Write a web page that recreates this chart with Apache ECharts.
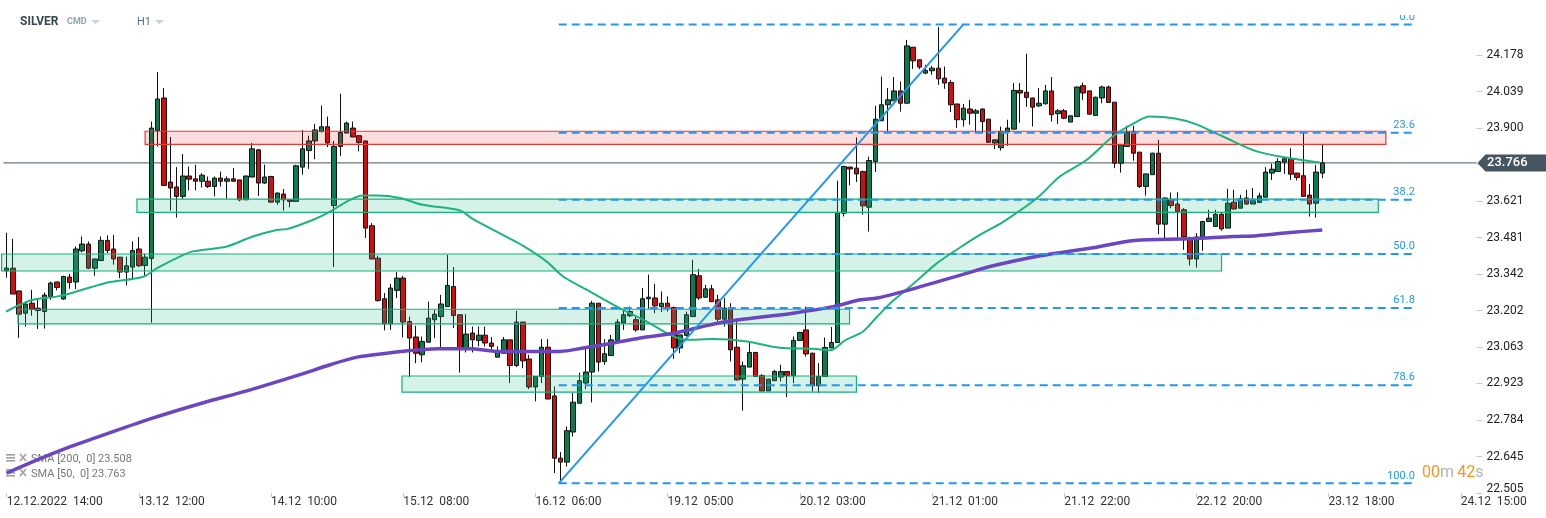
<!DOCTYPE html>
<html><head><meta charset="utf-8">
<script src="https://cdn.jsdelivr.net/npm/echarts/dist/echarts.min.js"></script>
<style>html,body{margin:0;padding:0;background:#fff}#c{width:1546px;height:518px}</style>
</head><body><div id="c"></div>
<script>
// ---- data (H1 candles, SILVER) ----
const open = [
23.354,23.364,23.277,23.192,23.230,23.211,23.198,23.256,23.311,23.246,
23.330,23.311,23.430,23.456,23.364,23.393,23.470,23.437,23.406,23.349,
23.368,23.437,23.374,23.401,23.890,24.014,23.693,23.674,23.638,23.716,
23.705,23.696,23.696,23.676,23.708,23.696,23.705,23.701,23.625,23.712,
23.816,23.689,23.714,23.616,23.647,23.625,23.619,23.750,23.813,23.850,
23.886,23.904,23.603,23.829,23.880,23.899,23.870,23.850,23.526,23.402,
23.247,23.151,23.279,23.326,23.160,23.101,23.033,23.081,23.167,23.179,
23.217,23.294,23.186,23.055,23.116,23.088,23.108,23.078,23.024,23.039,
23.090,22.992,23.158,23.017,22.910,22.950,23.062,22.876,22.638,22.623,
22.738,22.848,22.925,22.967,23.230,23.007,23.030,23.088,23.154,23.182,
23.167,23.128,23.247,23.250,23.217,23.230,23.214,23.059,23.107,23.179,
23.335,23.253,23.285,23.243,23.169,23.207,23.062,22.940,22.986,23.042,
22.954,22.895,22.934,22.948,22.969,22.953,23.088,23.128,23.039,22.915,
22.950,23.059,23.080,23.574,23.750,23.746,23.733,23.597,23.771,23.927,
23.988,24.003,24.041,23.994,24.208,24.160,24.109,24.118,24.128,24.090,
24.073,23.991,23.931,23.972,23.956,23.972,23.933,23.842,23.824,23.884,
23.895,24.043,24.036,24.014,23.984,23.992,24.041,23.954,23.965,23.922,
23.943,24.061,24.041,23.947,24.014,24.056,23.998,23.765,23.829,23.886,
23.807,23.676,23.721,23.803,23.532,23.625,23.609,23.587,23.476,23.399,
23.483,23.542,23.523,23.570,23.517,23.616,23.593,23.632,23.609,23.615,
23.635,23.727,23.733,23.769,23.782,23.727,23.717,23.643,23.612,23.727];
const close = [
23.364,23.265,23.188,23.227,23.207,23.202,23.261,23.307,23.290,23.332,
23.309,23.437,23.456,23.364,23.399,23.470,23.431,23.399,23.349,23.373,
23.431,23.373,23.406,23.899,24.010,23.680,23.670,23.638,23.716,23.704,
23.696,23.719,23.676,23.708,23.696,23.705,23.696,23.625,23.716,23.820,
23.689,23.712,23.616,23.651,23.625,23.619,23.755,23.820,23.850,23.892,
23.904,23.842,23.829,23.882,23.918,23.865,23.844,23.517,23.399,23.240,
23.151,23.288,23.326,23.158,23.097,23.039,23.084,23.173,23.188,23.227,
23.298,23.183,23.055,23.112,23.090,23.108,23.078,23.065,23.046,23.090,
22.992,23.158,23.010,22.910,22.950,23.062,22.864,22.638,22.623,22.743,
22.852,22.934,22.967,23.230,23.005,23.037,23.090,23.158,23.186,23.198,
23.128,23.247,23.253,23.220,23.230,23.211,23.059,23.109,23.186,23.339,
23.250,23.285,23.236,23.169,23.211,23.052,22.937,22.991,23.042,22.950,
22.895,22.940,22.969,22.969,22.953,23.088,23.118,23.036,22.915,22.950,
23.061,23.080,23.577,23.752,23.743,23.724,23.602,23.775,23.933,23.988,
24.007,24.041,23.994,24.213,24.156,24.132,24.119,24.128,24.087,24.071,
23.988,23.931,23.975,23.956,23.965,23.924,23.845,23.854,23.886,23.899,
24.043,24.033,24.016,23.979,23.994,24.041,23.950,23.965,23.937,23.946,
24.056,24.033,23.952,24.017,24.056,23.997,23.765,23.835,23.884,23.803,
23.676,23.724,23.803,23.532,23.632,23.603,23.580,23.483,23.399,23.483,
23.542,23.555,23.570,23.514,23.612,23.590,23.629,23.609,23.622,23.640,
23.731,23.742,23.771,23.782,23.723,23.710,23.638,23.609,23.731,23.766];
const low = [
23.327,23.265,23.098,23.141,23.182,23.132,23.133,23.243,23.279,23.243,
23.285,23.284,23.424,23.360,23.335,23.393,23.421,23.377,23.326,23.298,
23.326,23.368,23.335,23.156,23.829,23.680,23.584,23.557,23.628,23.661,
23.661,23.672,23.670,23.638,23.676,23.629,23.695,23.619,23.625,23.712,
23.640,23.686,23.616,23.606,23.584,23.596,23.619,23.721,23.743,23.780,
23.882,23.826,23.368,23.793,23.880,23.865,23.810,23.479,23.399,23.236,
23.126,23.128,23.250,23.099,22.948,23.001,23.004,23.081,23.097,23.059,
23.217,23.135,22.965,23.042,23.042,23.065,23.065,23.052,23.024,23.039,
22.925,22.986,22.982,22.902,22.855,22.925,22.864,22.581,22.544,22.606,
22.721,22.848,22.902,22.851,22.969,22.995,23.030,23.088,23.128,23.177,
23.121,23.128,23.209,23.192,23.196,23.198,23.017,23.039,23.103,23.179,
23.243,23.250,23.234,23.160,23.141,23.007,22.935,22.820,22.986,22.948,
22.893,22.895,22.934,22.931,22.871,22.925,23.086,23.026,22.893,22.887,
22.950,23.059,23.078,23.561,23.680,23.693,23.568,23.504,23.731,23.927,
23.886,24.003,23.962,23.994,24.125,24.124,24.105,24.103,24.064,24.049,
23.960,23.899,23.905,23.912,23.886,23.880,23.842,23.819,23.813,23.831,
23.895,23.920,23.980,23.905,23.979,23.988,23.924,23.915,23.933,23.922,
23.943,24.007,23.952,23.947,23.994,23.997,23.746,23.729,23.829,23.774,
23.670,23.641,23.721,23.494,23.479,23.593,23.476,23.434,23.374,23.366,
23.430,23.541,23.523,23.507,23.517,23.587,23.593,23.606,23.609,23.615,
23.635,23.701,23.733,23.724,23.701,23.699,23.638,23.561,23.557,23.708];
const high = [
23.499,23.476,23.277,23.236,23.281,23.247,23.271,23.313,23.312,23.335,
23.342,23.447,23.485,23.466,23.400,23.485,23.489,23.491,23.407,23.408,
23.466,23.483,23.419,23.924,24.113,24.052,23.865,23.750,23.800,23.752,
23.759,23.727,23.714,23.714,23.733,23.714,23.746,23.701,23.717,23.842,
23.819,23.759,23.717,23.652,23.666,23.625,23.759,23.892,23.870,23.915,
23.985,23.943,23.850,24.030,23.924,23.924,23.873,23.850,23.536,23.412,
23.269,23.304,23.349,23.335,23.179,23.144,23.103,23.236,23.205,23.262,
23.415,23.368,23.186,23.188,23.141,23.141,23.141,23.101,23.065,23.101,
23.090,23.201,23.158,23.033,22.950,23.093,23.093,22.912,22.661,22.759,
22.887,22.965,23.059,23.239,23.230,23.093,23.109,23.169,23.205,23.217,
23.182,23.288,23.339,23.304,23.275,23.256,23.216,23.109,23.198,23.396,
23.361,23.300,23.300,23.262,23.250,23.230,23.173,23.007,23.080,23.042,
22.959,22.941,22.976,22.995,22.969,23.103,23.121,23.217,23.041,23.001,
23.099,23.139,23.698,23.755,23.751,23.863,23.736,23.790,23.984,24.096,
24.052,24.094,24.077,24.236,24.209,24.160,24.141,24.137,24.285,24.134,
24.083,23.992,23.991,24.007,23.972,23.973,23.934,23.854,23.905,23.931,
24.071,24.071,24.183,24.015,24.052,24.064,24.094,23.972,23.972,23.946,
24.057,24.073,24.041,24.019,24.061,24.061,23.998,23.835,23.908,23.908,
23.808,23.724,23.805,23.854,23.633,23.653,23.654,23.593,23.484,23.498,
23.545,23.587,23.587,23.579,23.667,23.663,23.644,23.663,23.670,23.652,
23.750,23.763,23.784,23.784,23.822,23.728,23.880,23.686,23.759,23.835];

// SMA readings: [bar position, value]
const sma50 = [[-0.1,23.198],[2.1,23.224],[4.2,23.243],[8.5,23.258],[13.2,23.290],[16.4,23.311],[21.6,23.330],[23.9,23.364],[27.5,23.408],[29.6,23.428],[35.0,23.447],[39.1,23.485],[42.9,23.510],[44.5,23.513],[48.7,23.549],[51.4,23.580],[54.1,23.619],[56.6,23.641],[58.8,23.641],[62.5,23.632],[66.1,23.606],[72.0,23.584],[74.1,23.551],[78.8,23.491],[82.0,23.450],[85.8,23.389],[88.4,23.332],[92.2,23.281],[97.4,23.211],[101.7,23.160],[105.4,23.109],[108.1,23.090],[112.2,23.093],[117.6,23.084],[122.8,23.060],[128.1,23.056],[130.8,23.050],[133.3,23.090],[136.0,23.121],[138.3,23.179],[140.8,23.239],[144.0,23.303],[147.8,23.383],[151.4,23.442],[154.6,23.491],[158.3,23.541],[163.7,23.632],[167.3,23.714],[171.6,23.778],[175.7,23.867],[178.9,23.915],[181.6,23.943],[185.6,23.936],[188.8,23.915],[193.2,23.867],[198.6,23.810],[203.9,23.784],[208.6,23.768]];
const sma200 = [[0,22.581],[4.2,22.625],[9.5,22.676],[13.2,22.708],[22.8,22.788],[30.7,22.846],[38.7,22.899],[46.6,22.957],[51.4,22.995],[55.7,23.024],[59.8,23.037],[64.1,23.049],[68.4,23.056],[73.6,23.056],[77.9,23.046],[83.1,23.046],[87.9,23.046],[91.6,23.059],[96.6,23.079],[101.1,23.099],[105.4,23.113],[114.4,23.160],[124.9,23.192],[131.3,23.217],[135.6,23.243],[138.3,23.250],[145.6,23.296],[152.6,23.345],[156.2,23.370],[164.2,23.411],[172.1,23.440],[179.2,23.470],[188.0,23.476],[194.8,23.485],[198.6,23.488],[203.9,23.500],[209.0,23.510]];

const fibLabels = ['0.0','23.6','38.2','50.0','61.8','78.6','100.0'];
const fibPrices = [24.295,23.881,23.625,23.418,23.212,22.917,22.542];
const fibFrom = 87.7, fibTo = 223.7;
const trendX = [87.7, 152.0];
const trendY = [22.542, 24.295];

const zoneFrom = [22.0, 20.7, -0.8, 1.8, 62.8];
const zoneTo   = [219.1, 217.9, 193.0, 133.9, 135.0];
const zoneHigh = [23.887, 23.628, 23.418, 23.207, 22.952];
const zoneLow  = [23.837, 23.577, 23.353, 23.151, 22.890];
const zoneKind = ['resist','support','support','support','support'];

const lastPrice = 23.766;
const tickLabels = ['12.12.2022  14:00','13.12  12:00','14.12  10:00','15.12  08:00','16.12  06:00','19.12  05:00','20.12  03:00','21.12  01:00','21.12  22:00','22.12  20:00','23.12  18:00','24.12  15:00'];
const tickEvery = 21;
const yTickValues = [22.505,22.6444,22.7838,22.9233,23.0627,23.2021,23.3415,23.4809,23.6203,23.7598,23.8992,24.0386,24.178];
const yTickLabels = ['22.505','22.645','22.784','22.923','23.063','23.202','23.342','23.481','23.621','','23.900','24.039','24.178'];
const yMin = 22.505, yMax = 24.331;
const N = 234;

// ---- chart ----
const categories = Array.from({length: N}, (_, i) => String(i));
const candles = open.map((o, i) => [o, close[i], low[i], high[i]]);
const FONT = 'Roboto, "Noto Sans", sans-serif';
const yLabelOf = (v) => {
  let best = -1, d = 1e9;
  yTickValues.forEach((t, i) => { if (Math.abs(t - v) < d) { d = Math.abs(t - v); best = i; } });
  return d < 0.005 ? yTickLabels[best] : '';
};

const chart = echarts.init(document.getElementById('c'), null, {renderer: 'canvas'});
const option = {
  animation: false,
  backgroundColor: '#ffffff',
  grid: {left: 3.5, top: 15, width: 1473, height: 478},
  xAxis: [{
    type: 'category', data: categories, boundaryGap: true,
    axisLine: {show: false, onZero: false},
    axisTick: {show: true, alignWithLabel: true, length: 4, lineStyle: {color: '#c8c8c8'},
      interval: (i) => i % tickEvery === 0},
    axisLabel: {interval: (i) => i % tickEvery === 0, align: 'left', margin: 3,
      color: '#333', fontSize: 12, fontFamily: FONT,
      formatter: (v, i) => tickLabels[Math.round(i / tickEvery)] || ''},
    splitLine: {show: false}
  }, {
    type: 'value', min: -0.5, max: N - 0.5, show: false, axisLine: {onZero: false}
  }],
  yAxis: [{
    type: 'value', position: 'right', min: yMin, max: yMax,
    axisLine: {show: false, onZero: false},
    axisTick: {show: true, length: 6, lineStyle: {color: '#c8c8c8'}, customValues: yTickValues},
    splitLine: {show: false},
    axisLabel: {margin: 10, color: '#222', fontSize: 12, fontFamily: FONT, customValues: yTickValues,
      showMinLabel: true, showMaxLabel: true,
      formatter: (v) => {
        const t = yLabelOf(v);
        return (t && Math.abs(v - yMin) < 0.005) ? '{b|' + t + '}' : t;
      },
      rich: {b: {padding: [0, 0, 8, 0], color: '#222', fontSize: 12, fontFamily: FONT}}}
  }],
  series: [
    { // last price line
      type: 'line', xAxisIndex: 1, yAxisIndex: 0, z: 1, silent: true, symbol: 'none',
      data: [[-0.5, lastPrice], [N - 0.5, lastPrice]],
      lineStyle: {color: '#4b5661', width: 1}
    },
    {
      type: 'candlestick', xAxisIndex: 0, yAxisIndex: 0, z: 2, barWidth: 5,
      data: candles,
      itemStyle: {color: '#0b7a4f', color0: '#d10d0d', borderColor: '#111', borderColor0: '#111', borderWidth: 1}
    },
    { // zones
      type: 'custom', xAxisIndex: 1, yAxisIndex: 0, z: 5, silent: true,
      data: zoneFrom.map((x, i) => [x, zoneTo[i], zoneHigh[i], zoneLow[i], i]),
      encode: {x: [0, 1], y: [2, 3]},
      renderItem: (params, api) => {
        const p1 = api.coord([api.value(0), api.value(2)]);
        const p2 = api.coord([api.value(1), api.value(3)]);
        const res = zoneKind[api.value(4)] === 'resist';
        return {type: 'rect', shape: {x: p1[0], y: p1[1], width: p2[0] - p1[0], height: p2[1] - p1[1]},
          style: {fill: res ? 'rgba(230,30,30,0.15)' : 'rgba(40,190,140,0.2)',
                  stroke: res ? '#e53935' : '#17b07b', lineWidth: 1.2}};
      }
    },
    {
      type: 'line', name: 'SMA50', xAxisIndex: 1, yAxisIndex: 0, z: 6, silent: true,
      data: sma50, symbol: 'none', smooth: 0.3,
      lineStyle: {color: '#1db47c', width: 2}
    },
    {
      type: 'line', name: 'SMA200', xAxisIndex: 1, yAxisIndex: 0, z: 6, silent: true,
      data: sma200, symbol: 'none', smooth: 0.3,
      lineStyle: {color: '#6b46c1', width: 3.5}
    },
    { // fib levels
      type: 'custom', xAxisIndex: 1, yAxisIndex: 0, z: 7, silent: true,
      data: fibPrices.map((p, i) => [fibFrom, fibTo, p, i]),
      encode: {x: [0, 1], y: 2},
      renderItem: (params, api) => {
        const a = api.coord([api.value(0), api.value(2)]);
        const b = api.coord([api.value(1), api.value(2)]);
        return {type: 'group', children: [
          {type: 'line', shape: {x1: a[0], y1: a[1], x2: b[0], y2: b[1]},
            style: {stroke: '#2196f3', lineWidth: 2, lineDash: [8, 5]}},
          {type: 'text', style: {text: fibLabels[api.value(3)], x: b[0], y: b[1] - 2,
            align: 'right', verticalAlign: 'bottom', fill: '#2196f3', font: '11px ' + FONT}}
        ]};
      }
    },
    {
      type: 'line', xAxisIndex: 1, yAxisIndex: 0, z: 7, silent: true, symbol: 'none',
      data: trendX.map((x, i) => [x, trendY[i]]),
      lineStyle: {color: '#2196f3', width: 2}
    }
  ]
};
chart.setOption(option);

// overlay chrome (header, legend, price badge, countdown)
const py = chart.convertToPixel({yAxisIndex: 0}, lastPrice);
const gx = 1476.5;
chart.setOption({
  graphic: [
    {type: 'rect', z: 100, shape: {x: 0, y: 0, width: 1480, height: 15}, style: {fill: '#fff'}},
    {type: 'text', z: 101, x: 20, y: 22, style: {text: 'SILVER', font: 'bold 12px ' + FONT, fill: '#37474f', verticalAlign: 'middle'}},
    {type: 'text', z: 101, x: 67, y: 22, style: {text: 'CMD', font: 'bold 9px ' + FONT, fill: '#90a4ae', verticalAlign: 'middle'}},
    {type: 'polygon', z: 101, shape: {points: [[91, 20], [100, 20], [95.5, 24]]}, style: {fill: '#c8d0d5'}},
    {type: 'text', z: 101, x: 137, y: 22, style: {text: 'H1', font: '11px ' + FONT, fill: '#546e7a', verticalAlign: 'middle'}},
    {type: 'polygon', z: 101, shape: {points: [[155, 20], [164, 20], [159.5, 24]]}, style: {fill: '#c8d0d5'}},
    // legend rows
    {type: 'group', z: 101, children: [
      {type: 'rect', shape: {x: 6, y: 454, width: 9, height: 1.6}, style: {fill: '#a0a0a0'}},
      {type: 'rect', shape: {x: 6, y: 457, width: 9, height: 1.6}, style: {fill: '#a0a0a0'}},
      {type: 'rect', shape: {x: 6, y: 460, width: 9, height: 1.6}, style: {fill: '#a0a0a0'}},
      {type: 'line', shape: {x1: 20, y1: 454, x2: 26, y2: 461}, style: {stroke: '#a0a0a0', lineWidth: 1.6}},
      {type: 'line', shape: {x1: 26, y1: 454, x2: 20, y2: 461}, style: {stroke: '#a0a0a0', lineWidth: 1.6}},
      {type: 'text', x: 31, y: 459, style: {text: 'SMA [200,  0] 23.508', font: '11px ' + FONT, fill: '#777', verticalAlign: 'middle'}},
      {type: 'rect', shape: {x: 6, y: 469, width: 9, height: 1.6}, style: {fill: '#a0a0a0'}},
      {type: 'rect', shape: {x: 6, y: 472, width: 9, height: 1.6}, style: {fill: '#a0a0a0'}},
      {type: 'rect', shape: {x: 6, y: 475, width: 9, height: 1.6}, style: {fill: '#a0a0a0'}},
      {type: 'line', shape: {x1: 20, y1: 469, x2: 26, y2: 476}, style: {stroke: '#a0a0a0', lineWidth: 1.6}},
      {type: 'line', shape: {x1: 26, y1: 469, x2: 20, y2: 476}, style: {stroke: '#a0a0a0', lineWidth: 1.6}},
      {type: 'text', x: 31, y: 474, style: {text: 'SMA [50,  0] 23.763', font: '11px ' + FONT, fill: '#777', verticalAlign: 'middle'}}
    ]},
    // price badge
    {type: 'polygon', z: 101, shape: {points: [[gx + 1, py], [gx + 9, py - 8.5], [1546, py - 8.5], [1546, py + 8.5], [gx + 9, py + 8.5]]}, style: {fill: '#46555f'}},
    {type: 'text', z: 102, x: 1487, y: py, style: {text: String(lastPrice.toFixed(3)), font: '500 13px ' + FONT, fill: '#fff', verticalAlign: 'middle'}},
    // countdown
    {type: 'text', z: 101, x: 1422, y: 473, style: {
      text: '{o|00}{g|m} {o|42}{g|s}', verticalAlign: 'middle',
      rich: {o: {fill: '#f7941d', font: '16px ' + FONT}, g: {fill: '#b5b5b5', font: '16px ' + FONT}}}}
  ]
});
</script></body></html>
